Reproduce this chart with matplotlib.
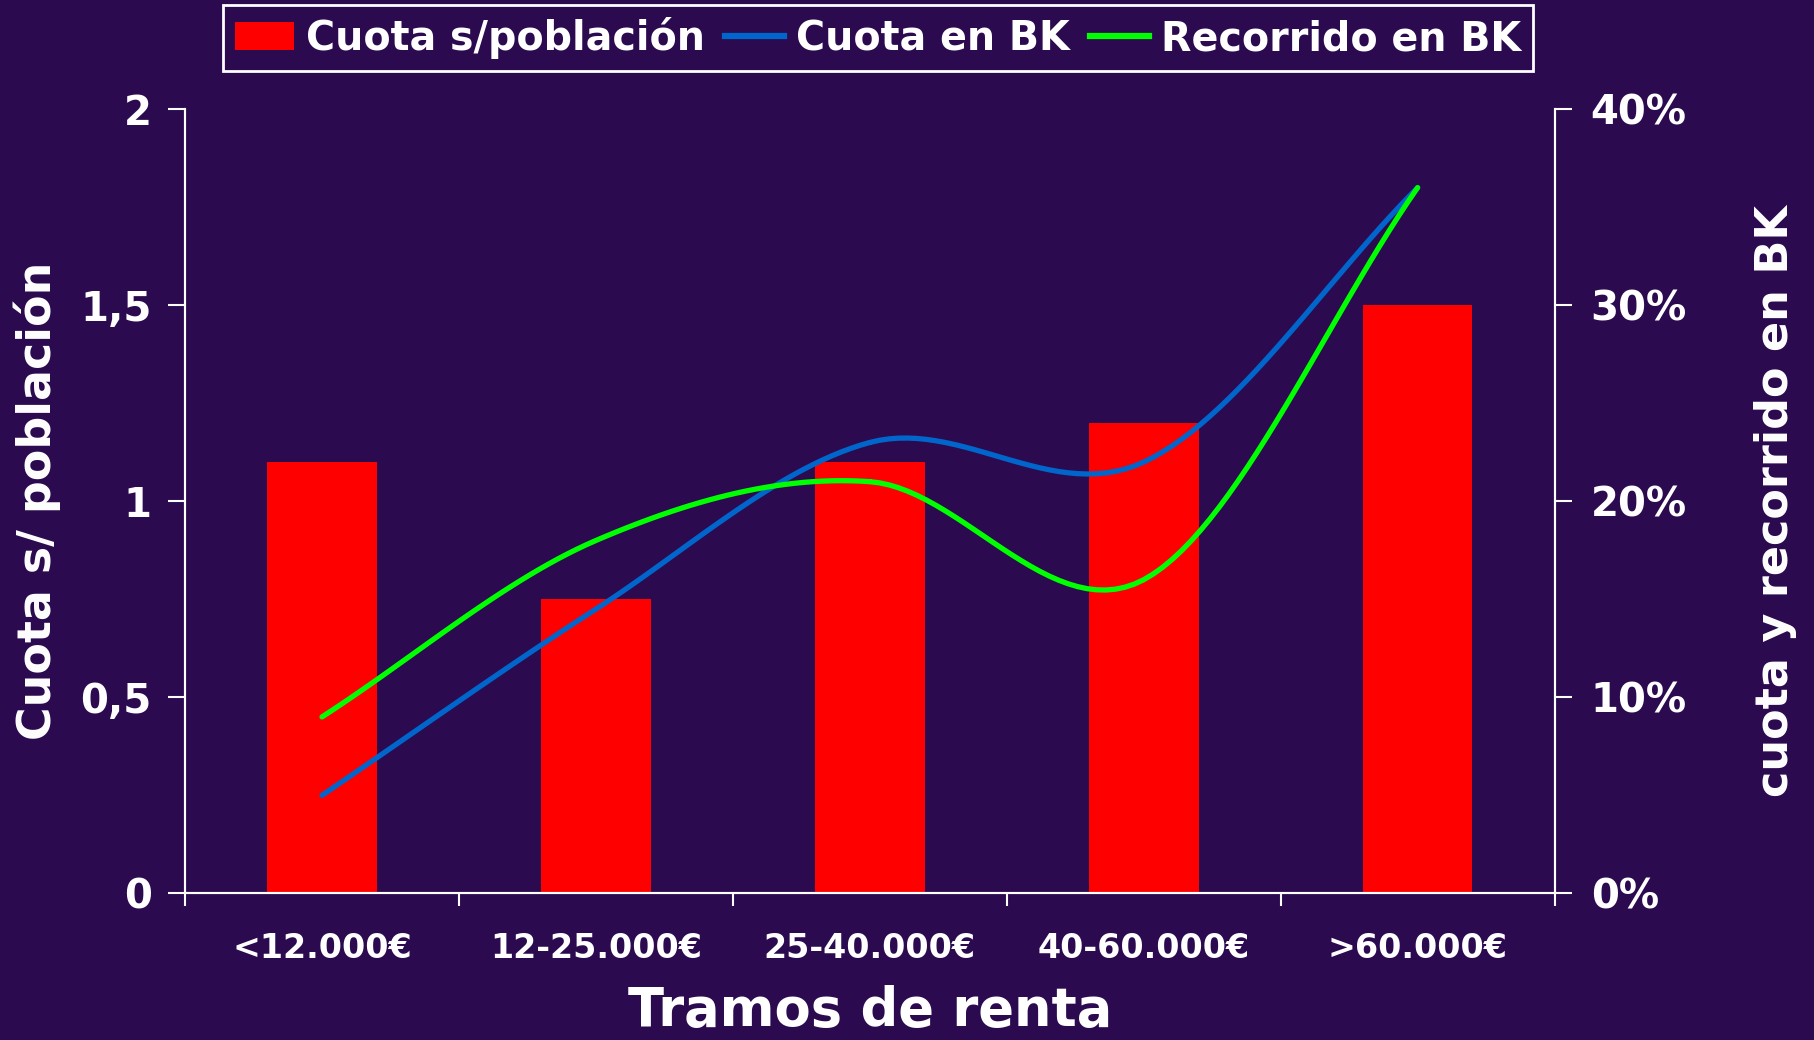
import numpy as np
import matplotlib.pyplot as plt
from matplotlib.patches import Patch
from matplotlib.lines import Line2D
from matplotlib.ticker import FuncFormatter, PercentFormatter

# data
tramos = ["<12.000€", "12-25.000€", "25-40.000€", "40-60.000€", ">60.000€"]
cuota_poblacion = [1.1, 0.75, 1.1, 1.2, 1.5]
cuota_bk = [0.05, 0.145, 0.23, 0.22, 0.36]
recorrido_bk = [0.09, 0.18, 0.21, 0.16, 0.36]

BG = "#2B0A50"
WHITE = "white"


def smooth(x, y, n=30):
    # catmull-rom, as excel does for smoothed lines
    x = np.asarray(x, float)
    y = np.asarray(y, float)
    px = np.concatenate([[2 * x[0] - x[1]], x, [2 * x[-1] - x[-2]]])
    py = np.concatenate([[2 * y[0] - y[1]], y, [2 * y[-1] - y[-2]]])
    xs, ys = [], []
    t = np.linspace(0, 1, n)
    for i in range(1, len(px) - 2):
        for p, out in ((px, xs), (py, ys)):
            p0, p1, p2, p3 = p[i - 1], p[i], p[i + 1], p[i + 2]
            out.extend(0.5 * (2 * p1 + (-p0 + p2) * t
                              + (2 * p0 - 5 * p1 + 4 * p2 - p3) * t ** 2
                              + (-p0 + 3 * p1 - 3 * p2 + p3) * t ** 3))
    return np.array(xs), np.array(ys)


plt.rcParams["font.family"] = "DejaVu Sans"
plt.rcParams["font.weight"] = "bold"

fig = plt.figure(figsize=(18.14, 10.4), dpi=100, facecolor=BG)
ax = fig.add_axes([0.102, 0.141, 0.755, 0.754])
ax.set_facecolor(BG)

x = np.arange(len(tramos))
ax.bar(x, cuota_poblacion, width=0.4, color="#FF0000", zorder=2)
ax.set_xlim(-0.5, len(tramos) - 0.5)
ax.set_ylim(0, 2)
ax.set_yticks([0, 0.5, 1, 1.5, 2])
ax.yaxis.set_major_formatter(FuncFormatter(lambda v, p: ("%g" % v).replace(".", ",")))

ax2 = ax.twinx()
ax2.set_ylim(0, 0.4)
ax2.set_yticks([0, 0.1, 0.2, 0.3, 0.4])
ax2.yaxis.set_major_formatter(PercentFormatter(1.0, decimals=0))
sx, sy = smooth(x, cuota_bk)
ax2.plot(sx, sy, color="#0066CC", lw=3.8, solid_capstyle="round", zorder=3)
sx, sy = smooth(x, recorrido_bk)
ax2.plot(sx, sy, color="#00FF00", lw=3.8, solid_capstyle="round", zorder=4)

ax.set_xticks(x)
ax.set_xticklabels(tramos, fontsize=24, color=WHITE)
ax.set_xticks(np.arange(-0.5, len(tramos)), minor=True)
ax.tick_params(axis="x", which="major", length=0, pad=28)
ax.tick_params(axis="x", which="minor", length=9, width=1.5, color=WHITE, direction="out")
ax.tick_params(axis="y", length=12, width=1.5, color=WHITE, labelcolor=WHITE,
               labelsize=29, pad=12)
ax2.tick_params(axis="y", length=12, width=1.5, color=WHITE, labelcolor=WHITE,
                labelsize=29, pad=14)

for a in (ax, ax2):
    a.spines["top"].set_visible(False)
    for s in ("left", "right", "bottom"):
        a.spines[s].set_color(WHITE)
        a.spines[s].set_linewidth(1.5)

ax.set_xlabel("Tramos de renta", fontsize=38, fontweight="bold", color=WHITE, labelpad=14)
ax.set_ylabel("Cuota s/ población", fontsize=33, fontweight="bold", color=WHITE, labelpad=14)
ax2.set_ylabel("cuota y recorrido en BK", fontsize=32, fontweight="bold", color=WHITE,
               labelpad=48)

handles = [Patch(facecolor="#FF0000", edgecolor="none"),
           Line2D([0], [0], color="#0066CC", lw=4.5),
           Line2D([0], [0], color="#00FF00", lw=4.5)]
labels = ["Cuota s/población", "Cuota en BK", "Recorrido en BK"]
leg = fig.legend(handles, labels, loc="upper center", bbox_to_anchor=(0.484, 0.995),
                 ncol=3, frameon=True, fancybox=False, framealpha=1, fontsize=28.5,
                 handlelength=1.5, handletextpad=0.3, columnspacing=0.5,
                 borderpad=0.3, borderaxespad=0.0, labelcolor=WHITE)
leg.get_frame().set_facecolor(BG)
leg.get_frame().set_edgecolor(WHITE)
leg.get_frame().set_linewidth(2)

fig.savefig("out.png", dpi=100, facecolor=BG)
